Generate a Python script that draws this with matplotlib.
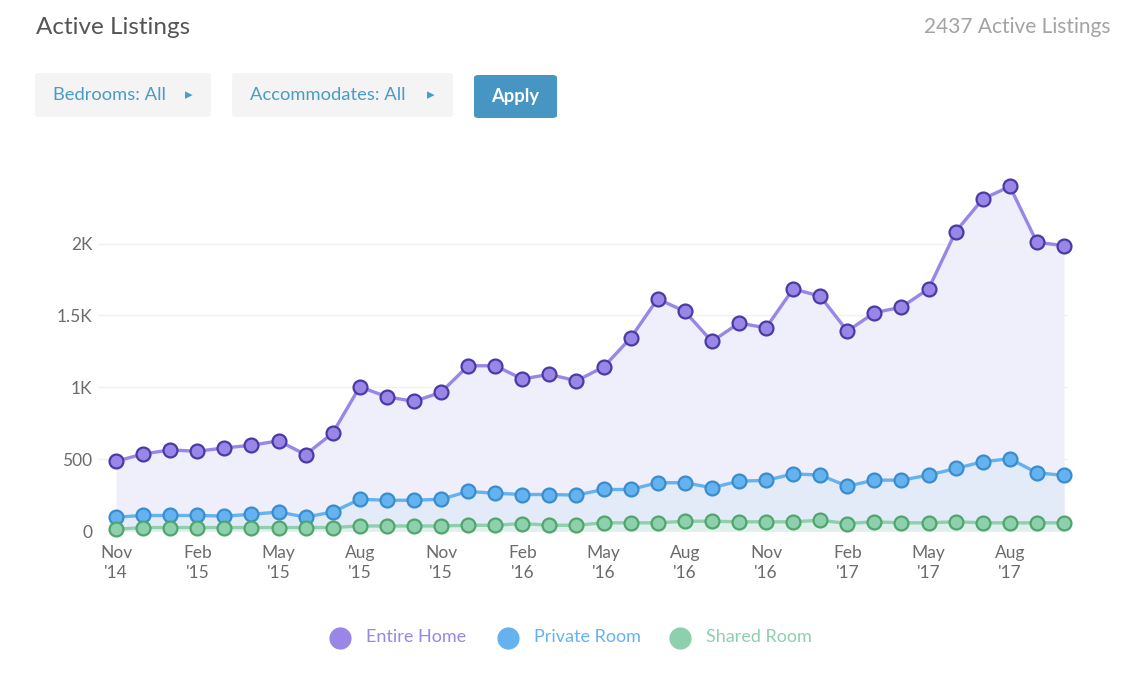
import matplotlib.pyplot as plt
from matplotlib.patches import FancyBboxPatch
import numpy as np

plt.rcParams["font.family"] = ["Lato", "DejaVu Sans"]

# monthly points, Nov '14 .. Oct '17
entire_home = [485, 536, 564, 555, 578, 597, 627, 532, 681, 1004, 934, 902,
               965, 1150, 1150, 1058, 1090, 1045, 1141, 1343, 1616, 1528, 1319, 1447,
               1414, 1685, 1634, 1391, 1519, 1558, 1685, 2083, 2310, 2398, 2009, 1986]
private_room = [97, 108, 108, 108, 104, 116, 132, 97, 132, 221, 214, 214,
                221, 275, 263, 254, 254, 250, 289, 289, 336, 336, 301, 347,
                352, 398, 389, 312, 354, 354, 389, 435, 482, 503, 405, 387]
shared_room = [12, 24, 24, 24, 24, 24, 24, 24, 24, 35, 35, 35,
               35, 40, 40, 52, 40, 40, 57, 57, 57, 68, 68, 64,
               64, 64, 75, 52, 64, 57, 57, 64, 57, 57, 57, 57]
tick_labels = ["Nov\n'14", "Feb\n'15", "May\n'15", "Aug\n'15", "Nov\n'15", "Feb\n'16",
               "May\n'16", "Aug\n'16", "Nov\n'16", "Feb\n'17", "May\n'17", "Aug\n'17"]
y_ticks = [0, 500, 1000, 1500, 2000]
y_tick_labels = ["0", "500", "1K", "1.5K", "2K"]
series_names = ["Entire Home", "Private Room", "Shared Room"]

W, H = 1135, 687
fig = plt.figure(figsize=(W / 100, H / 100), dpi=100)

# axes placed in pixel space of the reference
px_per_month = 948 / 35
ax_l, ax_r = 98, 1068
ax_bot, ax_top = 531, 170
ax = fig.add_axes([ax_l / W, (H - ax_bot) / H, (ax_r - ax_l) / W, (ax_bot - ax_top) / H])
ax.set_xlim(-(116 - ax_l) / px_per_month, 35 + (ax_r - 1064) / px_per_month)
ax.set_ylim(0, (ax_bot - ax_top) / 0.1437)

x = np.arange(len(entire_home))
styles = [
    ("#9a86e6", "#4a3aa6", "#efeffb"),
    ("#64b3f0", "#3a8ccc", "#e3eaf8"),
    ("#8ed0ae", "#4fa66c", "#e0efec"),
]
for vals, (c, ec, fc) in zip([entire_home, private_room, shared_room], styles):
    ax.fill_between(x, 0, vals, color=fc, zorder=1, linewidth=0)
for vals, (c, ec, fc) in zip([entire_home, private_room, shared_room], styles):
    ax.plot(x, vals, color=c, linewidth=2.4, marker="o", markersize=10,
            markerfacecolor=c, markeredgecolor=ec, markeredgewidth=1.6,
            zorder=3, clip_on=False)

ax.set_yticks(y_ticks)
ax.set_yticklabels(y_tick_labels)
ax.set_xticks(np.arange(0, 36, 3))
ax.set_xticklabels(tick_labels, linespacing=1.35)
ax.tick_params(axis="both", length=0, labelsize=12.5, colors="#6b6b6b")
ax.tick_params(axis="y", pad=4)
ax.tick_params(axis="x", pad=10)
ax.grid(axis="y", color="#f1f1f1", linewidth=1, zorder=0)
for s in ax.spines.values():
    s.set_visible(False)

# header
fig.text(36 / W, 1 - 28 / H, "Active Listings", fontsize=17.5, color="#555555",
         va="center", ha="left")
fig.text(1110 / W, 1 - 27 / H, "2437 Active Listings", fontsize=15, color="#a3a3a3",
         va="center", ha="right")


def button(x0, x1, y0, y1, label, face, tcolor, bold=False, arrow=False):
    box = FancyBboxPatch((x0 / W, 1 - y1 / H), (x1 - x0) / W, (y1 - y0) / H,
                         boxstyle="round,pad=0,rounding_size=0.004",
                         transform=fig.transFigure, facecolor=face, edgecolor="none")
    fig.patches.append(box)
    yc = 1 - (y0 + y1) / 2 / H
    if arrow:
        fig.text((x0 + 18) / W, yc, label, fontsize=13.2, color=tcolor,
                 va="center", ha="left")
        fig.text((x1 - 22) / W, yc, "\u25b8", fontsize=11, color=tcolor,
                 va="center", ha="center", family=["DejaVu Sans"])
    else:
        fig.text((x0 + x1) / 2 / W, yc, label, fontsize=13.2, color=tcolor,
                 va="center", ha="center", fontweight="bold" if bold else "normal")


button(35, 211, 73, 117, "Bedrooms: All", "#f4f4f4", "#4a9bc6", arrow=True)
button(232, 453, 73, 117, "Accommodates: All", "#f4f4f4", "#4a9bc6", arrow=True)
button(474, 557, 75, 118, "Apply", "#4695c2", "white", bold=True)

# legend
legend_x = [340, 508, 680]
for name, lx, (c, ec, fc) in zip(series_names, legend_x, styles):
    fig.lines.append(plt.Line2D([lx / W], [1 - 638 / H], marker="o", markersize=15,
                                color=c, linestyle="none", transform=fig.transFigure))
    fig.text((lx + 26) / W, 1 - 637 / H, name, fontsize=13, color=c,
             va="center", ha="left")

fig.savefig("out.png", dpi=100, facecolor="white")
